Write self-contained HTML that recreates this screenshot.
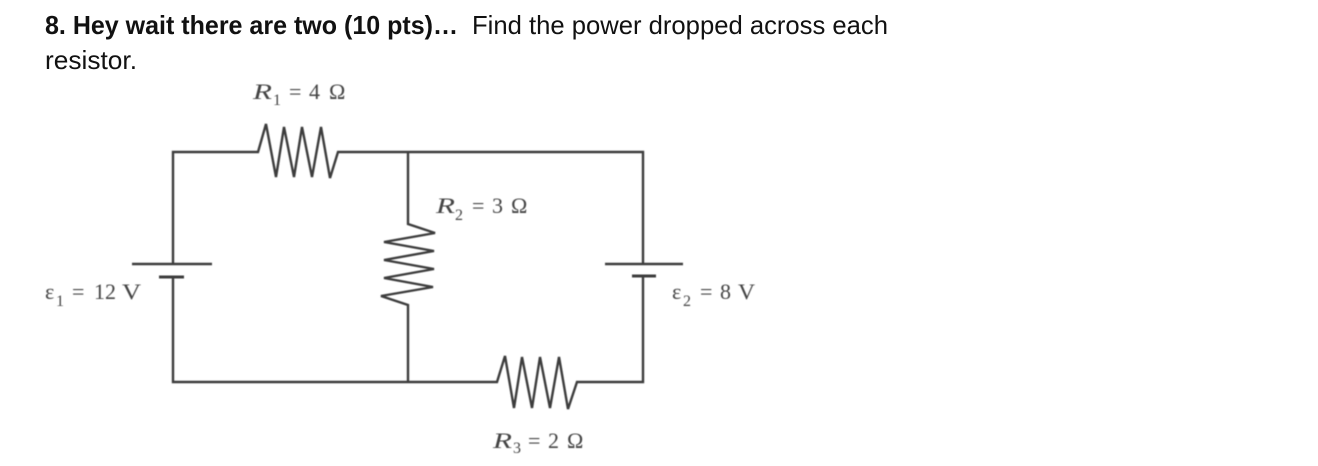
<!DOCTYPE html>
<html>
<head>
<meta charset="utf-8">
<style>
html,body{margin:0;padding:0;background:#fff;width:1318px;height:466px;overflow:hidden}
svg{display:block}
.h{font-family:"Liberation Sans",sans-serif;font-size:26px;fill:#111}
.l{font-family:"Liberation Serif",serif;font-size:22px;fill:#444}
.i{font-style:italic}
.s{font-size:16px}
</style>
</head>
<body>
<svg width="1318" height="466" viewBox="0 0 1318 466" xmlns="http://www.w3.org/2000/svg">
<defs><filter id="b" x="-5%" y="-5%" width="110%" height="110%"><feGaussianBlur stdDeviation="0.5"/></filter></defs>
<text class="h" x="45" y="34" font-weight="bold" textLength="413" lengthAdjust="spacingAndGlyphs">8. Hey wait there are two (10 pts)…</text>
<text class="h" x="472" y="34" textLength="416" lengthAdjust="spacingAndGlyphs">Find the power dropped across each</text>
<text class="h" x="45" y="69" textLength="92" lengthAdjust="spacingAndGlyphs">resistor.</text>

<g filter="url(#b)">
<g fill="none" stroke="#3c3c3c" stroke-width="2.4" stroke-linejoin="miter">
<polyline points="173,264 173,152 258,152 266,124 276,177 284,127 294,177 302,127 312,177 321,127 330,178 338,152 643,152 643,264"/>
<polyline points="173,277 173,382 497,382 505,356 514,408 522,357 532,408 540,357 550,408 559,357 568,409 577,382 643,382 643,276"/>
<polyline points="408,152 408,224 435,233 384,242 434,251 384,260 434,269 384,278 433,287 381,296 408,305 408,382"/>
<line x1="132" y1="264" x2="212" y2="264"/>
<line x1="159" y1="277" x2="184" y2="277" stroke-width="3"/>
<line x1="605" y1="264" x2="683" y2="264"/>
<line x1="632" y1="276" x2="656" y2="276" stroke-width="3"/>
</g>

<text class="l i" x="253" y="99" textLength="19" lengthAdjust="spacingAndGlyphs">R</text>
<text class="l s" x="273" y="105">1</text>
<text class="l" x="289" y="99">=</text>
<text class="l" x="309" y="99">4</text>
<text class="l" x="329" y="99">Ω</text>

<text class="l i" x="436" y="213" textLength="19" lengthAdjust="spacingAndGlyphs">R</text>
<text class="l s" x="455" y="220">2</text>
<text class="l" x="472" y="213">=</text>
<text class="l" x="492" y="213">3</text>
<text class="l" x="511" y="213">Ω</text>

<text class="l i" x="493" y="448" textLength="19" lengthAdjust="spacingAndGlyphs">R</text>
<text class="l s" x="513" y="453">3</text>
<text class="l" x="528" y="448">=</text>
<text class="l" x="548" y="448">2</text>
<text class="l" x="567" y="448">Ω</text>

<text class="l" x="45" y="299">ε</text>
<text class="l s" x="56" y="306">1</text>
<text class="l" x="72" y="299">=</text>
<text class="l" x="94" y="299">12</text>
<text class="l" x="122" y="299" textLength="19" lengthAdjust="spacingAndGlyphs">V</text>

<text class="l" x="672" y="299">ε</text>
<text class="l s" x="683" y="306">2</text>
<text class="l" x="700" y="299">=</text>
<text class="l" x="720" y="299">8</text>
<text class="l" x="738" y="299" textLength="17" lengthAdjust="spacingAndGlyphs">V</text>
</g>
</svg>
</body>
</html>
